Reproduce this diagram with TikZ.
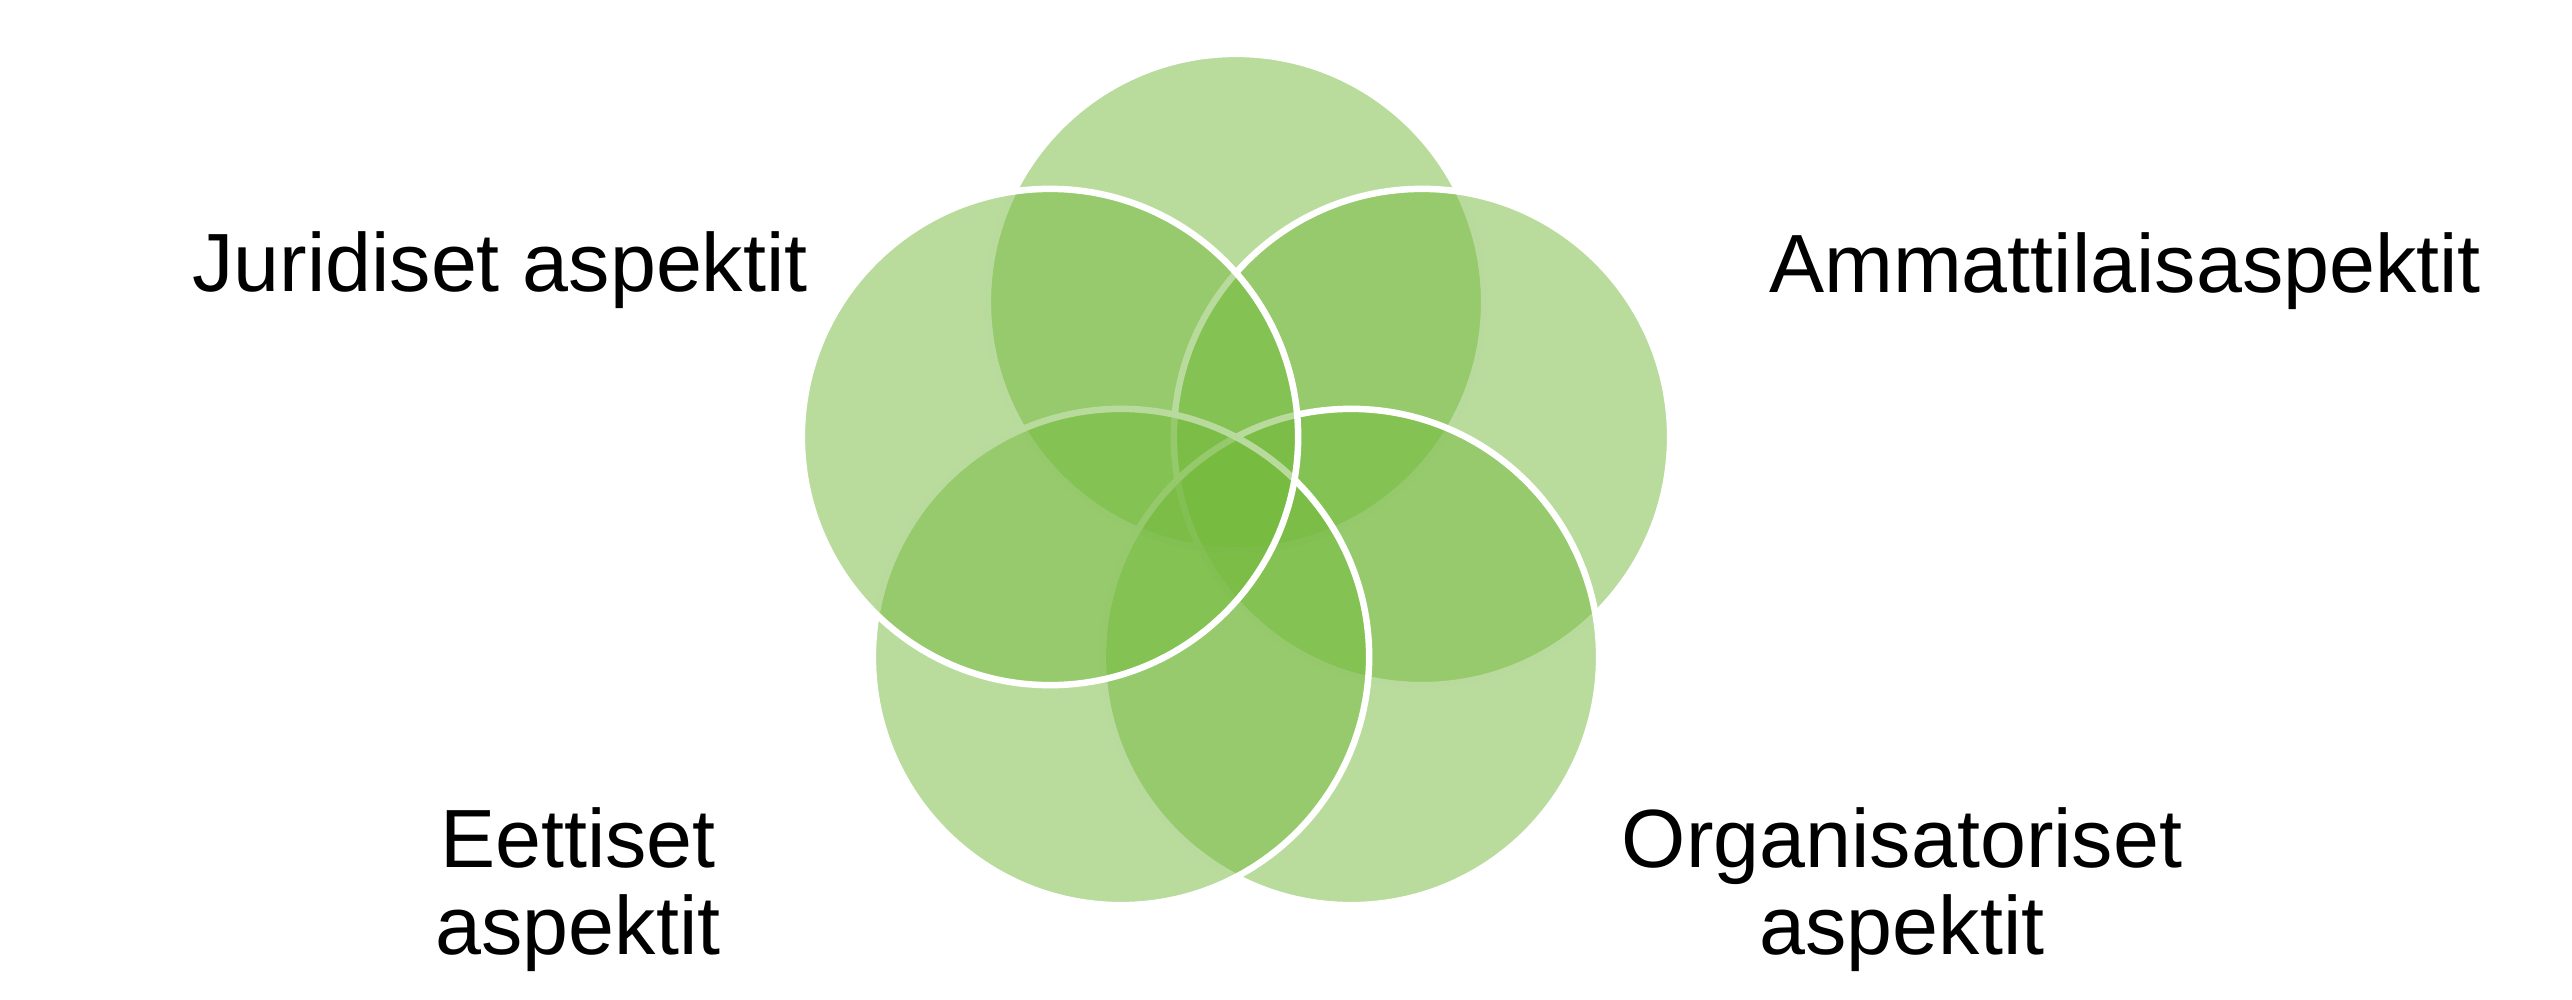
\documentclass[tikz,border=0pt]{standalone}
\usepackage{fontspec}
\setmainfont{Liberation Sans}
\definecolor{petalgreen}{RGB}{115,185,60}

\begin{document}
\begin{tikzpicture}[
    x=0.01cm, y=-0.01cm,
    every node/.style={font=\fontsize{23.5}{24.5}\selectfont},
    petal/.style={
        circle, minimum size=4.96cm, inner sep=0pt, outer sep=0pt,
        fill=petalgreen, fill opacity=0.5,
        draw=white, line width=0.065cm
    },
    aspect/.style={inner sep=0pt, anchor=base, align=center, text=black}
]
\useasboundingbox (0,0) rectangle (2572,1000);

%% ── Petals: top first, then clockwise ─────────────────────────────
\node[petal] (ptop)   at (1236,302) {};
\node[petal] (pright) at (1422,437) {};
\node[petal] (plowr)  at (1351,657) {};
\node[petal] (plowl)  at (1121,657) {};
\node[petal] (pleft)  at (1050,437) {};

%% ── Labels (base = last line) ─────────────────────────────────────
\node[aspect] (jur) at (500,291)  {Juridiset aspektit};
\node[aspect] (amm) at (2125,292) {Ammattilaisaspektit};
\node[aspect] (eet) at (578,954)  {Eettiset\\aspektit};
\node[aspect] (org) at (1902,954) {Organisatoriset\\aspektit};

\end{tikzpicture}
\end{document}
